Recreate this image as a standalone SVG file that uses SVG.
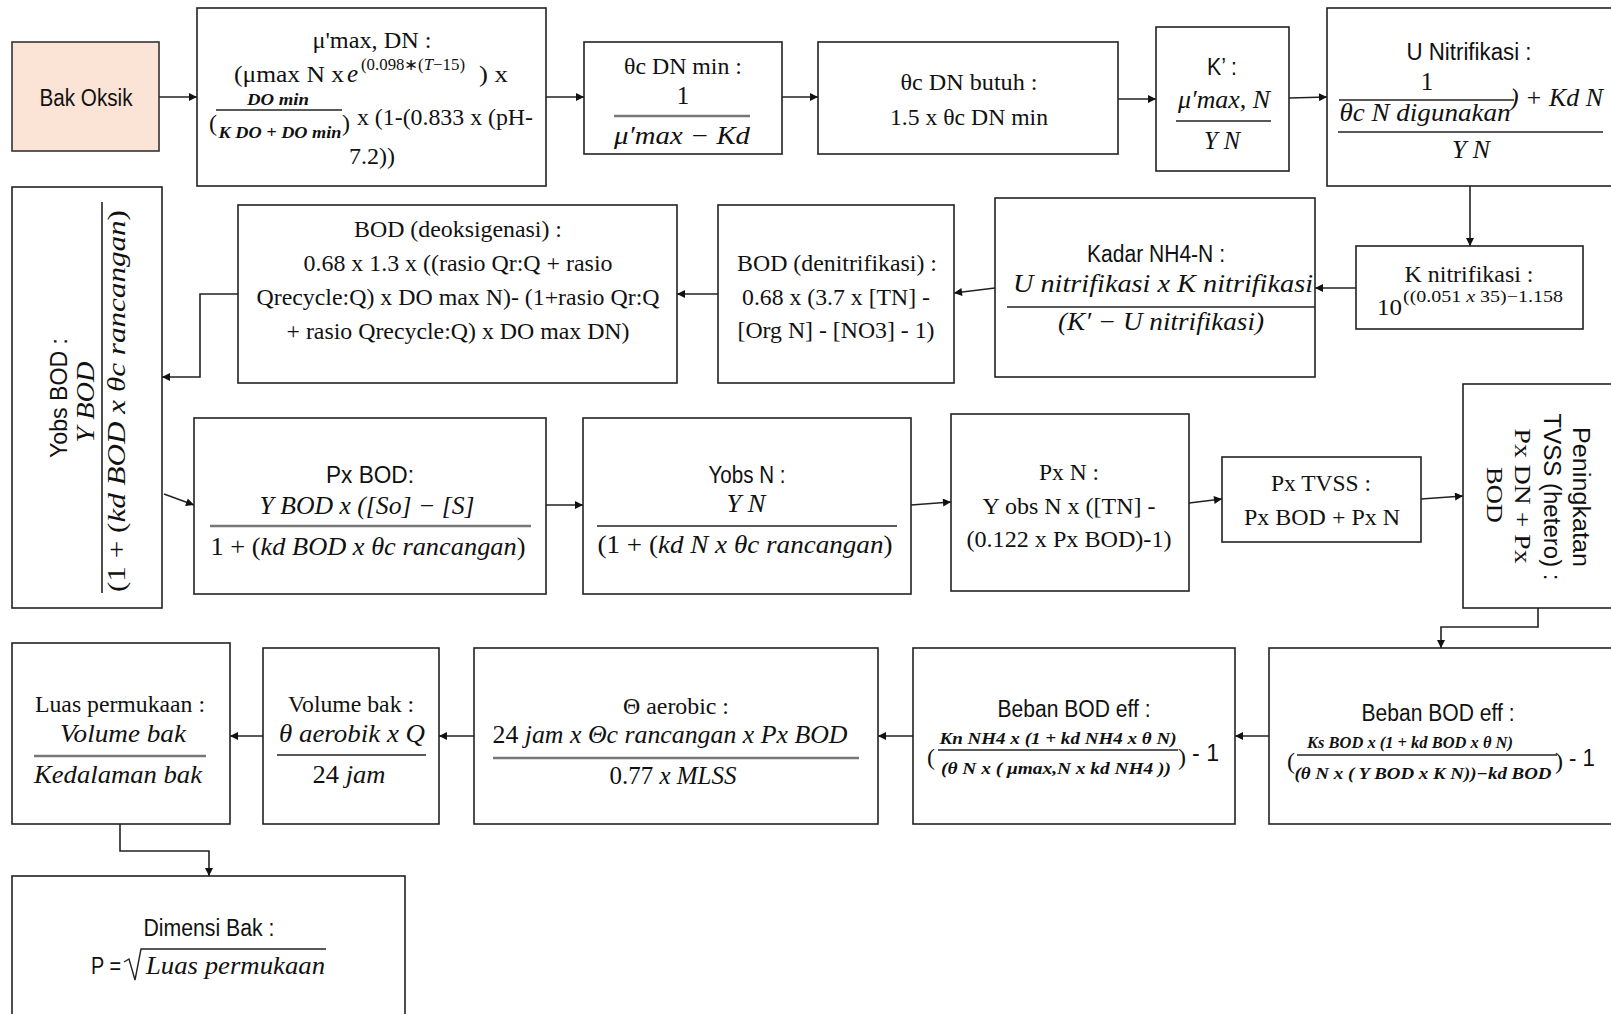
<svg xmlns="http://www.w3.org/2000/svg" width="1611" height="1014" viewBox="0 0 1611 1014">
  <style>
    .box { fill: #ffffff; stroke: #222222; stroke-width: 1.6; }
    .start { fill: #fbe4d5; stroke: #333333; stroke-width: 1.6; }
    .t { font-family: "Liberation Serif", "Times New Roman", serif; font-size: 24px; fill: #111111; }
    .s { font-family: "Liberation Sans", Arial, sans-serif; font-size: 23px; fill: #111111; }
    .m { font-family: "Liberation Serif", "Times New Roman", serif; font-style: italic; font-size: 25px; fill: #111111; }
    .mb { font-family: "Liberation Serif", "Times New Roman", serif; font-style: italic; font-weight: bold; font-size: 16px; fill: #111111; }
    .sup { font-family: "Liberation Serif", "Times New Roman", serif; font-size: 16px; fill: #111111; }
    .up { font-style: normal; }
    .c { text-anchor: middle; }
    .bar { stroke: #222222; stroke-width: 1.6; }
    .bar2 { stroke: #777777; stroke-width: 2.6; }
    .conn path { fill: none; stroke: #222222; stroke-width: 1.6; marker-end: url(#ah); }
  </style>
  <defs>
    <marker id="ah" viewBox="0 0 10 10" refX="10" refY="5" markerWidth="9" markerHeight="8" markerUnits="userSpaceOnUse" orient="auto">
      <path d="M0,0 L10,5 L0,10 z" fill="#111111"/>
    </marker>
  </defs>
  <rect width="1611" height="1014" fill="#ffffff"/>

  <!-- connectors -->
  <g id="connectors" class="conn">
    <path d="M159,97 L197,97"/>
    <path d="M546,97 L584,97"/>
    <path d="M782,97 L818,97"/>
    <path d="M1118,99 L1156,99"/>
    <path d="M1289,98 L1327,97"/>
    <path d="M1470,186 L1470,246"/>
    <path d="M1356,288 L1315,288"/>
    <path d="M995,288 L954,293"/>
    <path d="M718,294 L677,294"/>
    <path d="M238,294 L200,294 L200,377 L162,377"/>
    <path d="M164,494 L194,505"/>
    <path d="M546,505 L583,505"/>
    <path d="M911,505 L951,502"/>
    <path d="M1189,503 L1222,499"/>
    <path d="M1421,499 L1463,496"/>
    <path d="M1538,608 L1538,627 L1441,627 L1441,648"/>
    <path d="M1269,736 L1235,736"/>
    <path d="M913,736 L878,736"/>
    <path d="M474,736 L439,736"/>
    <path d="M263,736 L230,736"/>
    <path d="M120,824 L120,851 L209,851 L209,876"/>
  </g>

  <!-- Bak Oksik -->
  <g id="bak-oksik">
    <rect class="start" x="12" y="42" width="147" height="109"/>
    <text class="s c" x="86" y="106" textLength="93" lengthAdjust="spacingAndGlyphs">Bak Oksik</text>
  </g>

  <!-- mu'max, DN -->
  <g id="mumax-dn">
    <rect class="box" x="197" y="8" width="349" height="178"/>
    <text class="t c" x="372" y="48" textLength="119" lengthAdjust="spacingAndGlyphs">μ'max, DN :</text>
    <text class="t" x="234" y="82" textLength="110" lengthAdjust="spacingAndGlyphs">(μmax N x</text>
    <text class="m" x="347" y="82">e</text>
    <text class="sup" x="361" y="70" textLength="104" lengthAdjust="spacingAndGlyphs">(0.098∗(<tspan font-style="italic">T</tspan>−15)</text>
    <text class="t" x="479" y="82" textLength="29" lengthAdjust="spacingAndGlyphs">) x</text>
    <text class="t" x="209" y="131" font-size="27">(</text>
    <text class="mb c" x="278" y="105" textLength="62" lengthAdjust="spacingAndGlyphs">DO min</text>
    <line class="bar" x1="216" y1="110" x2="342" y2="110"/>
    <text class="mb c" x="280" y="138" textLength="123" lengthAdjust="spacingAndGlyphs">K DO + DO min</text>
    <text class="t" x="342" y="131" font-size="27">)</text>
    <text class="t" x="357" y="125" textLength="176" lengthAdjust="spacingAndGlyphs">x (1-(0.833 x (pH-</text>
    <text class="t c" x="372" y="164" textLength="46" lengthAdjust="spacingAndGlyphs">7.2))</text>
  </g>

  <!-- theta c DN min -->
  <g id="thetac-dn-min">
    <rect class="box" x="584" y="42" width="198" height="112"/>
    <text class="t c" x="683" y="74" textLength="118" lengthAdjust="spacingAndGlyphs">θc DN min :</text>
    <text class="m c up" x="683" y="104">1</text>
    <line class="bar2" x1="614" y1="116" x2="750" y2="116"/>
    <text class="m c" x="682" y="144" textLength="136" lengthAdjust="spacingAndGlyphs">μ′max − Kd</text>
  </g>

  <!-- theta c DN butuh -->
  <g id="thetac-dn-butuh">
    <rect class="box" x="818" y="42" width="300" height="112"/>
    <text class="t c" x="969" y="90" textLength="137" lengthAdjust="spacingAndGlyphs">θc DN butuh :</text>
    <text class="t c" x="969" y="125" textLength="158" lengthAdjust="spacingAndGlyphs">1.5 x θc DN min</text>
  </g>

  <!-- K' -->
  <g id="k-prime">
    <rect class="box" x="1156" y="27" width="133" height="144"/>
    <text class="s c" x="1222" y="75" textLength="30" lengthAdjust="spacingAndGlyphs">K’ :</text>
    <text class="m c" x="1224" y="108" textLength="92" lengthAdjust="spacingAndGlyphs">μ′max, N</text>
    <line class="bar" x1="1176" y1="121" x2="1271" y2="121"/>
    <text class="m c" x="1222" y="149" textLength="36" lengthAdjust="spacingAndGlyphs">Y N</text>
  </g>

  <!-- U Nitrifikasi -->
  <g id="u-nitrifikasi">
    <rect class="box" x="1327" y="8" width="300" height="178"/>
    <text class="s c" x="1469" y="60" textLength="125" lengthAdjust="spacingAndGlyphs">U Nitrifikasi :</text>
    <text class="m c up" x="1427" y="90">1</text>
    <line class="bar" x1="1339" y1="100" x2="1514" y2="100"/>
    <text class="m c" x="1425" y="121" textLength="171" lengthAdjust="spacingAndGlyphs">θc N digunakan</text>
    <text class="m" x="1510" y="106" textLength="93" lengthAdjust="spacingAndGlyphs">) + Kd N</text>
    <line class="bar" x1="1338" y1="132" x2="1603" y2="132"/>
    <text class="m c" x="1471" y="158" textLength="38" lengthAdjust="spacingAndGlyphs">Y N</text>
  </g>

  <!-- K nitrifikasi -->
  <g id="k-nitrifikasi">
    <rect class="box" x="1356" y="246" width="227" height="83"/>
    <text class="t c" x="1469" y="282" textLength="129" lengthAdjust="spacingAndGlyphs">K nitrifikasi :</text>
    <text class="t" x="1377" y="315" textLength="25" lengthAdjust="spacingAndGlyphs">10</text>
    <text class="sup" x="1403" y="302" font-size="17" textLength="160" lengthAdjust="spacingAndGlyphs">((0.051 <tspan font-style="italic">x</tspan> 35)−1.158</text>
  </g>

  <!-- Kadar NH4-N -->
  <g id="kadar-nh4n">
    <rect class="box" x="995" y="198" width="320" height="179"/>
    <text class="s c" x="1156" y="262" textLength="138" lengthAdjust="spacingAndGlyphs">Kadar NH4-N :</text>
    <text class="m c" x="1163" y="292" textLength="300" lengthAdjust="spacingAndGlyphs">U nitrifikasi x K nitrifikasi</text>
    <line class="bar" x1="1007" y1="307" x2="1315" y2="307"/>
    <text class="m c" x="1161" y="330" textLength="206" lengthAdjust="spacingAndGlyphs">(K′ − U nitrifikasi)</text>
  </g>

  <!-- BOD (denitrifikasi) -->
  <g id="bod-denitrifikasi">
    <rect class="box" x="718" y="205" width="236" height="178"/>
    <text class="t c" x="837" y="271" textLength="200" lengthAdjust="spacingAndGlyphs">BOD (denitrifikasi) :</text>
    <text class="t c" x="836" y="305" textLength="188" lengthAdjust="spacingAndGlyphs">0.68 x (3.7 x [TN] -</text>
    <text class="t c" x="836" y="338" textLength="197" lengthAdjust="spacingAndGlyphs">[Org N] - [NO3] - 1)</text>
  </g>

  <!-- BOD (deoksigenasi) -->
  <g id="bod-deoksigenasi">
    <rect class="box" x="238" y="205" width="439" height="178"/>
    <text class="t c" x="458" y="237" textLength="208" lengthAdjust="spacingAndGlyphs">BOD (deoksigenasi) :</text>
    <text class="t c" x="458" y="271" textLength="309" lengthAdjust="spacingAndGlyphs">0.68 x 1.3 x ((rasio Qr:Q + rasio</text>
    <text class="t c" x="458" y="305" textLength="403" lengthAdjust="spacingAndGlyphs">Qrecycle:Q) x DO max N)- (1+rasio Qr:Q</text>
    <text class="t c" x="458" y="339" textLength="343" lengthAdjust="spacingAndGlyphs">+ rasio Qrecycle:Q) x DO max DN)</text>
  </g>

  <!-- Yobs BOD (vertical) -->
  <g id="yobs-bod">
    <rect class="box" x="12" y="187" width="150" height="421"/>
    <text class="s c" transform="translate(67,398) rotate(-90)" textLength="120" lengthAdjust="spacingAndGlyphs">Yobs BOD :</text>
    <text class="m c" transform="translate(94,402) rotate(-90)" textLength="81" lengthAdjust="spacingAndGlyphs">Y BOD</text>
    <line class="bar" x1="102" y1="202" x2="102" y2="593"/>
    <text class="m c" transform="translate(125,401) rotate(-90)" textLength="382" lengthAdjust="spacingAndGlyphs"><tspan class="up">(1 + (</tspan>kd BOD x θc rancangan<tspan class="up">)</tspan></text>
  </g>

  <!-- Px BOD -->
  <g id="px-bod">
    <rect class="box" x="194" y="418" width="352" height="176"/>
    <text class="s c" x="370" y="483" textLength="88" lengthAdjust="spacingAndGlyphs">Px  BOD:</text>
    <text class="m c" x="367" y="514" textLength="215" lengthAdjust="spacingAndGlyphs">Y BOD x ([So] − [S]</text>
    <line class="bar2" x1="210" y1="526" x2="531" y2="526"/>
    <text class="m c" x="368" y="555" textLength="315" lengthAdjust="spacingAndGlyphs"><tspan class="up">1 + (</tspan>kd BOD x θc rancangan<tspan class="up">)</tspan></text>
  </g>

  <!-- Yobs N -->
  <g id="yobs-n">
    <rect class="box" x="583" y="418" width="328" height="176"/>
    <text class="s c" x="747" y="483" textLength="77" lengthAdjust="spacingAndGlyphs">Yobs N :</text>
    <text class="m c" x="746" y="512" textLength="39" lengthAdjust="spacingAndGlyphs">Y N</text>
    <line class="bar" x1="597" y1="526" x2="897" y2="526"/>
    <text class="m c" x="745" y="553" textLength="295" lengthAdjust="spacingAndGlyphs"><tspan class="up">(1 + (</tspan>kd N x θc rancangan<tspan class="up">)</tspan></text>
  </g>

  <!-- Px N -->
  <g id="px-n">
    <rect class="box" x="951" y="414" width="238" height="177"/>
    <text class="t c" x="1069" y="480" textLength="60" lengthAdjust="spacingAndGlyphs">Px N :</text>
    <text class="t c" x="1069" y="514" textLength="173" lengthAdjust="spacingAndGlyphs">Y obs N x ([TN] -</text>
    <text class="t c" x="1069" y="547" textLength="205" lengthAdjust="spacingAndGlyphs">(0.122 x Px BOD)-1)</text>
  </g>

  <!-- Px TVSS -->
  <g id="px-tvss">
    <rect class="box" x="1222" y="457" width="199" height="85"/>
    <text class="t c" x="1321" y="491" textLength="100" lengthAdjust="spacingAndGlyphs">Px TVSS :</text>
    <text class="t c" x="1322" y="525" textLength="156" lengthAdjust="spacingAndGlyphs">Px BOD + Px N</text>
  </g>

  <!-- Peningkatan TVSS (vertical) -->
  <g id="peningkatan-tvss">
    <rect class="box" x="1463" y="384" width="160" height="224"/>
    <text class="s c" transform="translate(1573,497) rotate(90)" textLength="140" lengthAdjust="spacingAndGlyphs">Peningkatan</text>
    <text class="s c" transform="translate(1544,497) rotate(90)" textLength="167" lengthAdjust="spacingAndGlyphs">TVSS (hetero) :</text>
    <text class="t c" transform="translate(1515,496) rotate(90)" textLength="135" lengthAdjust="spacingAndGlyphs">Px DN + Px</text>
    <text class="t c" transform="translate(1487,495) rotate(90)" textLength="56" lengthAdjust="spacingAndGlyphs">BOD</text>
  </g>

  <!-- Beban BOD eff (Ks BOD) -->
  <g id="beban-bod-eff-ks">
    <rect class="box" x="1269" y="648" width="360" height="176"/>
    <text class="s c" x="1438" y="721" textLength="153" lengthAdjust="spacingAndGlyphs">Beban BOD eff :</text>
    <text class="t" x="1287" y="769" font-size="30">(</text>
    <text class="mb c" x="1410" y="748" textLength="206" lengthAdjust="spacingAndGlyphs">Ks BOD x (1 + kd BOD x θ N)</text>
    <line class="bar" x1="1297" y1="755" x2="1557" y2="755"/>
    <text class="mb c" x="1423" y="779" textLength="257" lengthAdjust="spacingAndGlyphs">(θ N x ( Y BOD x K N))−kd BOD</text>
    <text class="t" x="1555" y="769" font-size="30">)</text>
    <text class="s" x="1569" y="766" textLength="26" lengthAdjust="spacingAndGlyphs">- 1</text>
  </g>

  <!-- Beban BOD eff (Kn NH4) -->
  <g id="beban-bod-eff-kn">
    <rect class="box" x="913" y="648" width="322" height="176"/>
    <text class="s c" x="1074" y="717" textLength="153" lengthAdjust="spacingAndGlyphs">Beban BOD eff :</text>
    <text class="t" x="927" y="765" font-size="30">(</text>
    <text class="mb c" x="1058" y="744" textLength="237" lengthAdjust="spacingAndGlyphs">Kn NH4 x (1 + kd NH4 x θ N)</text>
    <line class="bar" x1="938" y1="750" x2="1178" y2="750"/>
    <text class="mb c" x="1056" y="774" textLength="230" lengthAdjust="spacingAndGlyphs">(θ N x ( μmax,N x kd NH4 ))</text>
    <text class="t" x="1178" y="765" font-size="30">)</text>
    <text class="s" x="1192" y="761" textLength="27" lengthAdjust="spacingAndGlyphs">- 1</text>
  </g>

  <!-- Theta aerobic -->
  <g id="theta-aerobic">
    <rect class="box" x="474" y="648" width="404" height="176"/>
    <text class="t c" x="676" y="714" textLength="106" lengthAdjust="spacingAndGlyphs">Θ aerobic :</text>
    <text class="m c" x="670" y="743" textLength="355" lengthAdjust="spacingAndGlyphs"><tspan class="up">24</tspan> jam x Θc rancangan x Px BOD</text>
    <line class="bar2" x1="493" y1="758" x2="859" y2="758"/>
    <text class="m c" x="673" y="784" textLength="127" lengthAdjust="spacingAndGlyphs"><tspan class="up">0.77</tspan> x MLSS</text>
  </g>

  <!-- Volume bak -->
  <g id="volume-bak">
    <rect class="box" x="263" y="648" width="176" height="176"/>
    <text class="t c" x="351" y="712" textLength="126" lengthAdjust="spacingAndGlyphs">Volume bak :</text>
    <text class="m c" x="352" y="742" textLength="146" lengthAdjust="spacingAndGlyphs">θ aerobik x Q</text>
    <line class="bar" x1="277" y1="755" x2="426" y2="755"/>
    <text class="m c" x="349" y="783" textLength="73" lengthAdjust="spacingAndGlyphs"><tspan class="up">24</tspan> jam</text>
  </g>

  <!-- Luas permukaan -->
  <g id="luas-permukaan">
    <rect class="box" x="12" y="643" width="218" height="181"/>
    <text class="t c" x="120" y="712" textLength="170" lengthAdjust="spacingAndGlyphs">Luas permukaan :</text>
    <text class="m c" x="123" y="742" textLength="126" lengthAdjust="spacingAndGlyphs">Volume bak</text>
    <line class="bar2" x1="34" y1="756" x2="206" y2="756"/>
    <text class="m c" x="118" y="783" textLength="168" lengthAdjust="spacingAndGlyphs">Kedalaman bak</text>
  </g>

  <!-- Dimensi Bak -->
  <g id="dimensi-bak">
    <rect class="box" x="12" y="876" width="393" height="150"/>
    <text class="s c" x="209" y="936" textLength="131" lengthAdjust="spacingAndGlyphs">Dimensi Bak :</text>
    <text class="s" x="91" y="974" textLength="30" lengthAdjust="spacingAndGlyphs">P =</text>
    <path d="M124,962 L129,959 L135,980 L141,949 L326,949" fill="none" stroke="#222222" stroke-width="1.4"/>
    <text class="m" x="146" y="974" textLength="179" lengthAdjust="spacingAndGlyphs">Luas permukaan</text>
  </g>
</svg>
